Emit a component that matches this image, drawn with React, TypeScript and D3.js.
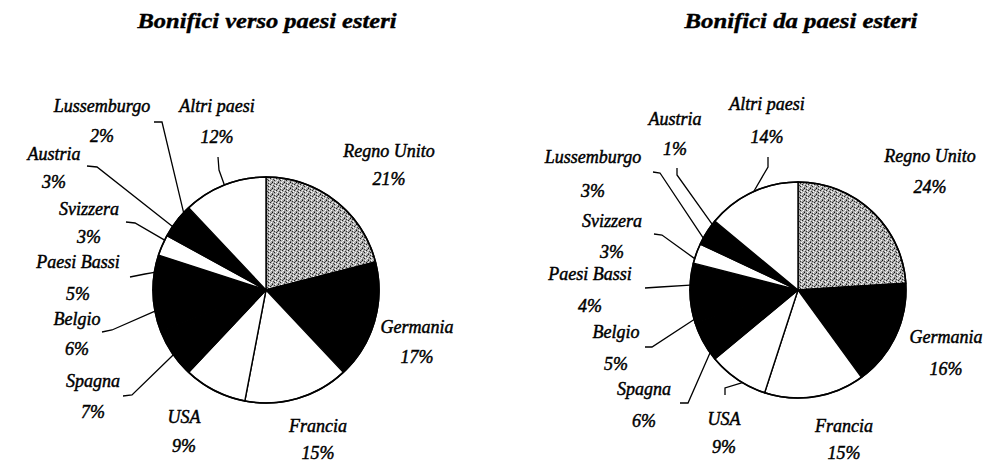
import React from "react";
import * as d3 from "d3";

// ---- Data ----
const categoriesOut = ["Regno Unito", "Germania", "Francia", "USA", "Spagna", "Belgio", "Paesi Bassi", "Svizzera", "Austria", "Lussemburgo", "Altri paesi"];
const valuesOut = [21, 17, 15, 9, 7, 6, 5, 3, 3, 2, 12];
const categoriesIn = ["Regno Unito", "Germania", "Francia", "USA", "Spagna", "Belgio", "Paesi Bassi", "Svizzera", "Lussemburgo", "Austria", "Altri paesi"];
const valuesIn = [24, 16, 15, 9, 6, 5, 4, 3, 3, 1, 14];
const titles = ["Bonifici verso paesi esteri", "Bonifici da paesi esteri"];

// ---- Styles ----
const fillFor: Record<string, string> = {
  "Regno Unito": "url(#stipple)",
  Germania: "#000",
  Francia: "#fff",
  USA: "#fff",
  Spagna: "#000",
  Belgio: "#000",
  "Paesi Bassi": "#000",
  Svizzera: "#fff",
  Austria: "#000",
  Lussemburgo: "#000",
  "Altri paesi": "#fff",
};

type Lbl = { x: number; y1: number; y2: number; lead?: { s: [number, number]; e: [number, number]; f: number } };

// ---- Layout ----
const layoutOut = {
  cx: 266, cy: 290, r: 113,
  title: { x: 267, y: 28, w: 259 },
  labels: {
    "Regno Unito": { x: 389, y1: 157, y2: 185 },
    Germania: { x: 417, y1: 333, y2: 363 },
    Francia: { x: 318, y1: 432, y2: 459 },
    USA: { x: 184, y1: 423, y2: 452 },
    Spagna: { x: 93, y1: 387, y2: 418, lead: { s: [123, 396], e: [132, 395], f: 0.47 } },
    Belgio: { x: 77, y1: 325, y2: 355, lead: { s: [102, 332], e: [112, 330], f: 0.5 } },
    "Paesi Bassi": { x: 78, y1: 268, y2: 300, lead: { s: [130, 277], e: [145, 274], f: 0.5 } },
    Svizzera: { x: 89, y1: 215, y2: 243, lead: { s: [126, 222], e: [135, 223], f: 0.76 } },
    Austria: { x: 54, y1: 160, y2: 188, lead: { s: [87, 166], e: [97, 167], f: 0.5 } },
    Lussemburgo: { x: 102, y1: 112, y2: 142, lead: { s: [154, 122], e: [162, 122], f: 0.5 } },
    "Altri paesi": { x: 217, y1: 112, y2: 143, lead: { s: [218, 157], e: [219, 170], f: 0.5 } },
  } as Record<string, Lbl>,
};

const layoutIn = {
  cx: 798, cy: 290, r: 108,
  title: { x: 801, y: 28, w: 233 },
  labels: {
    "Regno Unito": { x: 930, y1: 162, y2: 193 },
    Germania: { x: 946, y1: 343, y2: 375 },
    Francia: { x: 844, y1: 432, y2: 459 },
    USA: { x: 724, y1: 425, y2: 453, lead: { s: [725, 395], e: [725, 388], f: 0.4 } },
    Spagna: { x: 644, y1: 395, y2: 427, lead: { s: [680, 403], e: [688, 403], f: 0.19 } },
    Belgio: { x: 616, y1: 338, y2: 370, lead: { s: [645, 347], e: [652, 347], f: 0.12 } },
    "Paesi Bassi": { x: 590, y1: 280, y2: 312, lead: { s: [645, 288], e: [660, 287], f: 0.18 } },
    Svizzera: { x: 612, y1: 227, y2: 258, lead: { s: [654, 234], e: [662, 235], f: 0.23 } },
    Lussemburgo: { x: 593, y1: 163, y2: 197, lead: { s: [653, 172], e: [660, 173], f: 0.33 } },
    Austria: { x: 675, y1: 125, y2: 155, lead: { s: [677, 168], e: [677, 175], f: 0.4 } },
    "Altri paesi": { x: 767, y1: 110, y2: 143, lead: { s: [768, 157], e: [768, 167], f: 0.52 } },
  } as Record<string, Lbl>,
};

const serif = "Liberation Serif, DejaVu Serif, serif";
const labelStyle: React.CSSProperties = { fontFamily: serif, fontStyle: "italic", fontSize: "18px" };
const titleStyle: React.CSSProperties = { fontFamily: serif, fontStyle: "italic", fontWeight: 700, fontSize: "21px" };

function Pie({ cats, vals, layout, title }: { cats: string[]; vals: number[]; layout: typeof layoutOut; title: string }) {
  const data = cats.map((c, i) => ({ c, v: vals[i] }));
  const pie = d3.pie<{ c: string; v: number }>().sort(null).value((d) => d.v);
  const arcs = pie(data);
  const arc = d3.arc<d3.PieArcDatum<{ c: string; v: number }>>().innerRadius(0).outerRadius(layout.r);
  const { cx, cy, r } = layout;
  return (
    <g>
      <text
        x={layout.title.x}
        y={layout.title.y}
        textAnchor="middle"
        style={titleStyle}
        stroke="#000"
        strokeWidth={0.4}
        textLength={layout.title.w}
        lengthAdjust="spacingAndGlyphs"
      >
        {title}
      </text>
      <g transform={`translate(${cx},${cy})`}>
        {arcs.map((a) => (
          <path key={a.data.c} d={arc(a) || ""} fill={fillFor[a.data.c]} stroke="#000" strokeWidth={1.4} strokeLinejoin="round" />
        ))}
        <circle r={r} fill="none" stroke="#000" strokeWidth={1.6} />
      </g>
      {arcs.map((a) => {
        const l = layout.labels[a.data.c];
        if (!l) return null;
        let lead = null;
        if (l.lead) {
          const ang = a.startAngle + (a.endAngle - a.startAngle) * l.lead.f;
          const px = cx + r * Math.sin(ang);
          const py = cy - r * Math.cos(ang);
          const line = d3.line()([l.lead.s, l.lead.e, [px, py]]) || "";
          lead = <path d={line} fill="none" stroke="#000" strokeWidth={1.3} />;
        }
        return (
          <g key={"l" + a.data.c}>
            {lead}
            <text x={l.x} y={l.y1} textAnchor="middle" style={labelStyle} fill="#000" stroke="#000" strokeWidth={0.45}>
              {a.data.c}
            </text>
            <text x={l.x} y={l.y2} textAnchor="middle" style={labelStyle} fill="#000" stroke="#000" strokeWidth={0.45}>
              {a.data.v + "%"}
            </text>
          </g>
        );
      })}
    </g>
  );
}

export default function App() {
  return (
    <svg width={989} height={463} style={{ position: "absolute", left: 0, top: 0, background: "#fff" }}>
      <defs>
        <pattern id="stipple" width={6} height={6} patternUnits="userSpaceOnUse">
          <rect width={6} height={6} fill="#b0b0b0" />
          <rect x={0} y={0} width={1} height={1} fill="#111" />
          <rect x={3} y={0} width={1} height={1} fill="#fff" />
          <rect x={2} y={1} width={1} height={1} fill="#333" />
          <rect x={5} y={1} width={1} height={1} fill="#555" />
          <rect x={0} y={2} width={1} height={1} fill="#eee" />
          <rect x={4} y={2} width={1} height={1} fill="#222" />
          <rect x={1} y={3} width={1} height={1} fill="#444" />
          <rect x={3} y={3} width={1} height={1} fill="#fff" />
          <rect x={5} y={4} width={1} height={1} fill="#fff" />
          <rect x={2} y={4} width={1} height={1} fill="#222" />
          <rect x={0} y={5} width={1} height={1} fill="#666" />
          <rect x={4} y={5} width={1} height={1} fill="#ddd" />
        </pattern>
      </defs>
      <rect width={989} height={463} fill="#fff" />
      <Pie cats={categoriesOut} vals={valuesOut} layout={layoutOut} title={titles[0]} />
      <Pie cats={categoriesIn} vals={valuesIn} layout={layoutIn} title={titles[1]} />
    </svg>
  );
}
